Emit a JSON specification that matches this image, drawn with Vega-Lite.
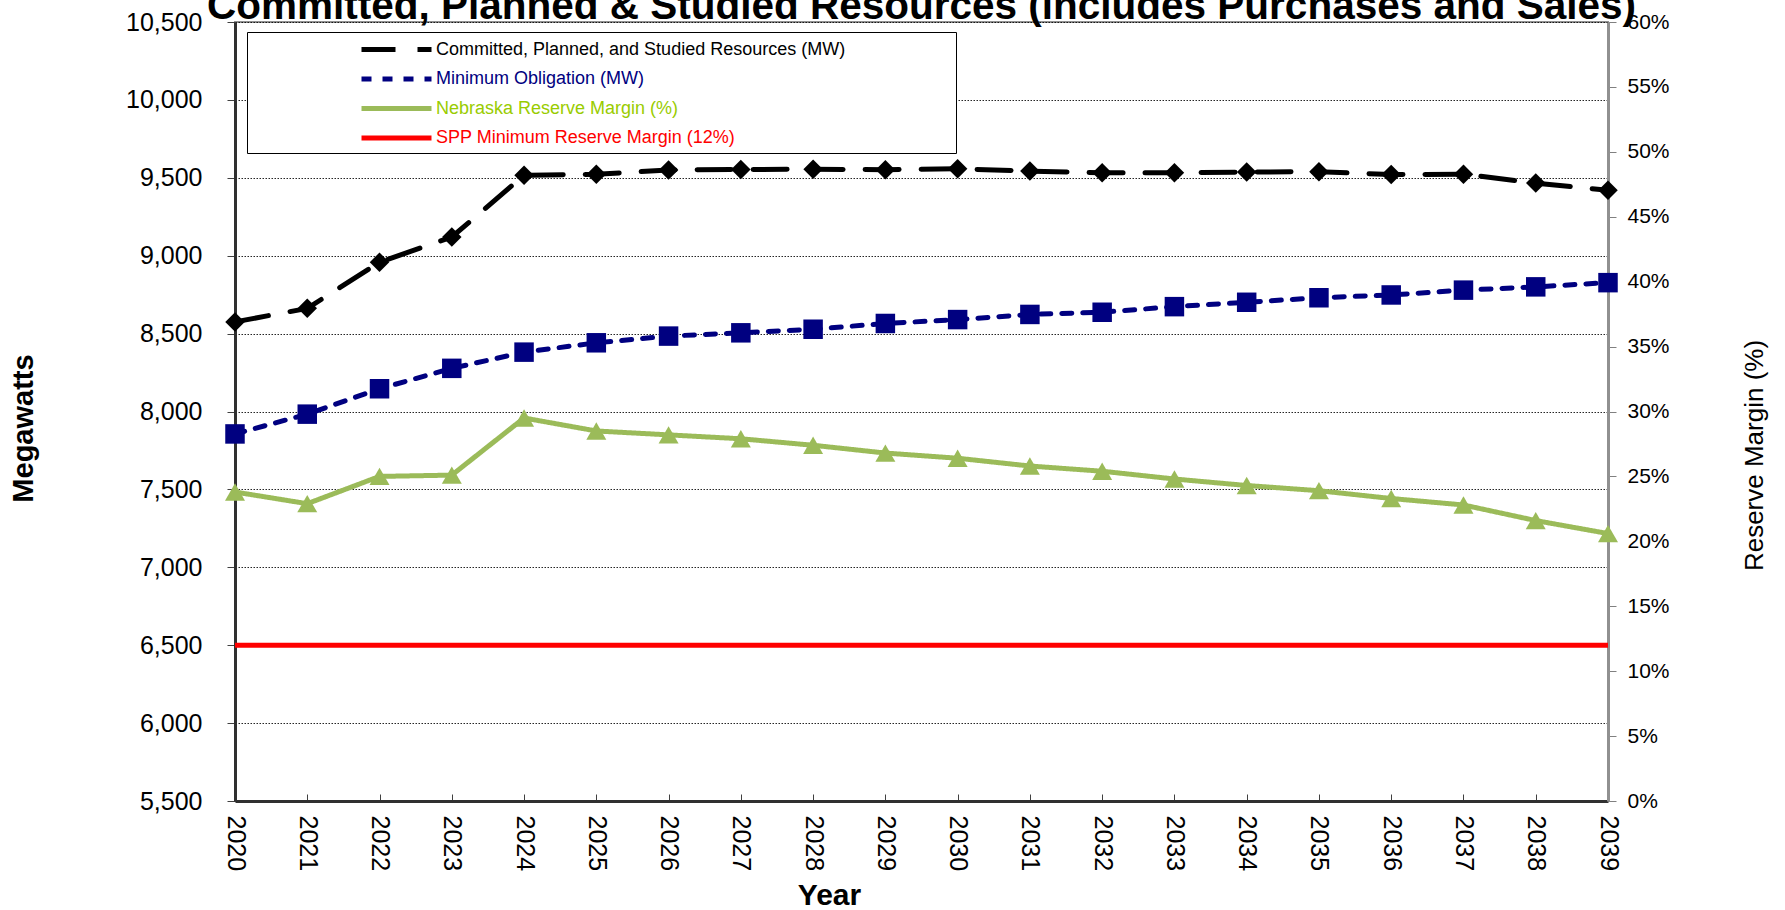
{
  "$schema": "https://vega.github.io/schema/vega-lite/v6.json",
  "width": 1373,
  "height": 779,
  "autosize": {"type": "none"},
  "padding": {"left": 235, "top": 22, "right": 177, "bottom": 109},
  "background": "white",
  "title": {
    "text": "Committed, Planned & Studied Resources (includes Purchases and Sales)",
    "anchor": "middle",
    "frame": "group",
    "font": "Liberation Sans",
    "fontSize": 40.5,
    "fontWeight": "bold",
    "color": "#000000",
    "baseline": "alphabetic",
    "offset": -49
  },
  "datasets": {
    "mw": [
      {"Year": 2020, "Series": "Committed, Planned, and Studied Resources (MW)", "Value": 8575},
      {"Year": 2021, "Series": "Committed, Planned, and Studied Resources (MW)", "Value": 8662},
      {"Year": 2022, "Series": "Committed, Planned, and Studied Resources (MW)", "Value": 8958},
      {"Year": 2023, "Series": "Committed, Planned, and Studied Resources (MW)", "Value": 9120},
      {"Year": 2024, "Series": "Committed, Planned, and Studied Resources (MW)", "Value": 9516},
      {"Year": 2025, "Series": "Committed, Planned, and Studied Resources (MW)", "Value": 9523},
      {"Year": 2026, "Series": "Committed, Planned, and Studied Resources (MW)", "Value": 9550},
      {"Year": 2027, "Series": "Committed, Planned, and Studied Resources (MW)", "Value": 9553},
      {"Year": 2028, "Series": "Committed, Planned, and Studied Resources (MW)", "Value": 9555},
      {"Year": 2029, "Series": "Committed, Planned, and Studied Resources (MW)", "Value": 9552},
      {"Year": 2030, "Series": "Committed, Planned, and Studied Resources (MW)", "Value": 9558},
      {"Year": 2031, "Series": "Committed, Planned, and Studied Resources (MW)", "Value": 9543},
      {"Year": 2032, "Series": "Committed, Planned, and Studied Resources (MW)", "Value": 9532},
      {"Year": 2033, "Series": "Committed, Planned, and Studied Resources (MW)", "Value": 9532},
      {"Year": 2034, "Series": "Committed, Planned, and Studied Resources (MW)", "Value": 9537},
      {"Year": 2035, "Series": "Committed, Planned, and Studied Resources (MW)", "Value": 9539},
      {"Year": 2036, "Series": "Committed, Planned, and Studied Resources (MW)", "Value": 9521},
      {"Year": 2037, "Series": "Committed, Planned, and Studied Resources (MW)", "Value": 9523},
      {"Year": 2038, "Series": "Committed, Planned, and Studied Resources (MW)", "Value": 9466},
      {"Year": 2039, "Series": "Committed, Planned, and Studied Resources (MW)", "Value": 9420},
      {"Year": 2020, "Series": "Minimum Obligation (MW)", "Value": 7856},
      {"Year": 2021, "Series": "Minimum Obligation (MW)", "Value": 7983},
      {"Year": 2022, "Series": "Minimum Obligation (MW)", "Value": 8146},
      {"Year": 2023, "Series": "Minimum Obligation (MW)", "Value": 8277},
      {"Year": 2024, "Series": "Minimum Obligation (MW)", "Value": 8381},
      {"Year": 2025, "Series": "Minimum Obligation (MW)", "Value": 8441},
      {"Year": 2026, "Series": "Minimum Obligation (MW)", "Value": 8484},
      {"Year": 2027, "Series": "Minimum Obligation (MW)", "Value": 8505},
      {"Year": 2028, "Series": "Minimum Obligation (MW)", "Value": 8528},
      {"Year": 2029, "Series": "Minimum Obligation (MW)", "Value": 8565},
      {"Year": 2030, "Series": "Minimum Obligation (MW)", "Value": 8590},
      {"Year": 2031, "Series": "Minimum Obligation (MW)", "Value": 8623},
      {"Year": 2032, "Series": "Minimum Obligation (MW)", "Value": 8637},
      {"Year": 2033, "Series": "Minimum Obligation (MW)", "Value": 8673},
      {"Year": 2034, "Series": "Minimum Obligation (MW)", "Value": 8701},
      {"Year": 2035, "Series": "Minimum Obligation (MW)", "Value": 8730},
      {"Year": 2036, "Series": "Minimum Obligation (MW)", "Value": 8748},
      {"Year": 2037, "Series": "Minimum Obligation (MW)", "Value": 8779},
      {"Year": 2038, "Series": "Minimum Obligation (MW)", "Value": 8800},
      {"Year": 2039, "Series": "Minimum Obligation (MW)", "Value": 8827}
    ],
    "pct": [
      {"Year": 2020, "Series": "Nebraska Reserve Margin (%)", "Value": 0.238},
      {"Year": 2021, "Series": "Nebraska Reserve Margin (%)", "Value": 0.229},
      {"Year": 2022, "Series": "Nebraska Reserve Margin (%)", "Value": 0.250},
      {"Year": 2023, "Series": "Nebraska Reserve Margin (%)", "Value": 0.251},
      {"Year": 2024, "Series": "Nebraska Reserve Margin (%)", "Value": 0.295},
      {"Year": 2025, "Series": "Nebraska Reserve Margin (%)", "Value": 0.285},
      {"Year": 2026, "Series": "Nebraska Reserve Margin (%)", "Value": 0.282},
      {"Year": 2027, "Series": "Nebraska Reserve Margin (%)", "Value": 0.279},
      {"Year": 2028, "Series": "Nebraska Reserve Margin (%)", "Value": 0.274},
      {"Year": 2029, "Series": "Nebraska Reserve Margin (%)", "Value": 0.268},
      {"Year": 2030, "Series": "Nebraska Reserve Margin (%)", "Value": 0.264},
      {"Year": 2031, "Series": "Nebraska Reserve Margin (%)", "Value": 0.258},
      {"Year": 2032, "Series": "Nebraska Reserve Margin (%)", "Value": 0.254},
      {"Year": 2033, "Series": "Nebraska Reserve Margin (%)", "Value": 0.248},
      {"Year": 2034, "Series": "Nebraska Reserve Margin (%)", "Value": 0.243},
      {"Year": 2035, "Series": "Nebraska Reserve Margin (%)", "Value": 0.239},
      {"Year": 2036, "Series": "Nebraska Reserve Margin (%)", "Value": 0.233},
      {"Year": 2037, "Series": "Nebraska Reserve Margin (%)", "Value": 0.228},
      {"Year": 2038, "Series": "Nebraska Reserve Margin (%)", "Value": 0.216},
      {"Year": 2039, "Series": "Nebraska Reserve Margin (%)", "Value": 0.206},
      {"Year": 2020, "Series": "SPP Minimum Reserve Margin (12%)", "Value": 0.12},
      {"Year": 2039, "Series": "SPP Minimum Reserve Margin (12%)", "Value": 0.12}
    ]
  },
  "encoding": {
    "x": {
      "field": "Year",
      "type": "quantitative",
      "scale": {"domain": [2020, 2039], "nice": false, "zero": false},
      "axis": {
        "title": "Year",
        "values": [2020, 2021, 2022, 2023, 2024, 2025, 2026, 2027, 2028, 2029, 2030, 2031, 2032, 2033, 2034, 2035, 2036, 2037, 2038, 2039],
        "format": "d",
        "labelAngle": 90,
        "labelFont": "Liberation Sans",
        "labelFontSize": 25,
        "labelColor": "#000000",
        "labelPadding": 21,
        "labelOverlap": false,
        "labelFlush": false,
        "tickSize": -7,
        "tickColor": "#404040",
        "tickWidth": 1,
        "domainColor": "#303030",
        "domainWidth": 3,
        "grid": false,
        "titleFont": "Liberation Sans",
        "titleFontSize": 30,
        "titleFontWeight": "bold",
        "titleColor": "#000000",
        "titleX": 594,
        "titleY": 103,
        "titleBaseline": "alphabetic",
        "titleAlign": "center"
      }
    },
    "color": {
      "field": "Series",
      "type": "nominal",
      "title": null,
      "scale": {
        "domain": ["Committed, Planned, and Studied Resources (MW)", "Minimum Obligation (MW)", "Nebraska Reserve Margin (%)", "SPP Minimum Reserve Margin (12%)"],
        "range": ["#000000", "#000080", "#9BBB59", "#FF0000"]
      },
      "legend": {
        "labelExpr": "datum.label + '\u00a0\u00a0\u00a0\u00a0\u00a0\u00a0\u00a0\u00a0\u00a0\u00a0\u00a0\u00a0\u00a0\u00a0\u00a0\u00a0\u00a0\u00a0\u00a0\u00a0\u00a0\u200b'"
      }
    }
  },
  "layer": [
    {
      "data": {"name": "mw"},
      "encoding": {
        "y": {
          "field": "Value",
          "type": "quantitative",
          "scale": {"domain": [5500, 10500], "nice": false, "zero": false},
          "axis": {
            "orient": "left",
            "title": "Megawatts",
            "values": [5500, 6000, 6500, 7000, 7500, 8000, 8500, 9000, 9500, 10000, 10500],
            "format": ",d",
            "labelFont": "Liberation Sans",
            "labelFontSize": 25,
            "labelColor": "#000000",
            "labelPadding": 25,
            "tickSize": 8,
            "tickColor": "#404040",
            "domainColor": "#303030",
            "domainWidth": 3,
            "grid": true,
            "gridColor": "#000000",
            "gridDash": [1.5, 1.5],
            "gridWidth": 1,
            "gridOpacity": 0.85,
            "titleFont": "Liberation Sans",
            "titleFontSize": 29,
            "titleFontWeight": "bold",
            "titleColor": "#000000",
            "titleAngle": -90,
            "titleX": -212,
            "titleY": 406,
            "titleBaseline": "middle",
            "titleAlign": "center"
          }
        }
      },
      "layer": [
        {
          "mark": {"type": "line", "strokeWidth": 5, "strokeCap": "round"},
          "encoding": {
            "strokeDash": {
              "field": "Series",
              "type": "nominal",
              "title": null,
              "scale": {
                "domain": ["Committed, Planned, and Studied Resources (MW)", "Minimum Obligation (MW)", "Nebraska Reserve Margin (%)", "SPP Minimum Reserve Margin (12%)"],
                "range": [[34, 22], [10, 11], [1, 0], [1, 0]]
              },
              "legend": {
                "labelExpr": "datum.label + '\u00a0\u00a0\u00a0\u00a0\u00a0\u00a0\u00a0\u00a0\u00a0\u00a0\u00a0\u00a0\u00a0\u00a0\u00a0\u00a0\u00a0\u00a0\u00a0\u00a0\u00a0\u200b'"
              }
            }
          }
        },
        {
          "mark": {"type": "point", "filled": true, "size": 380, "opacity": 1},
          "encoding": {
            "shape": {
              "field": "Series",
              "type": "nominal",
              "legend": null,
              "scale": {
                "domain": ["Committed, Planned, and Studied Resources (MW)", "Minimum Obligation (MW)", "Nebraska Reserve Margin (%)"],
                "range": ["diamond", "square", "triangle-up"]
              }
            }
          }
        }
      ]
    },
    {
      "data": {"name": "pct"},
      "encoding": {
        "y": {
          "field": "Value",
          "type": "quantitative",
          "scale": {"domain": [0, 0.6], "nice": false, "zero": false},
          "axis": {
            "orient": "right",
            "title": "Reserve Margin (%)",
            "values": [0, 0.05, 0.1, 0.15, 0.2, 0.25, 0.3, 0.35, 0.4, 0.45, 0.5, 0.55, 0.6],
            "format": ".0%",
            "labelFont": "Liberation Sans",
            "labelFontSize": 21,
            "labelColor": "#000000",
            "labelPadding": 11,
            "tickSize": 8,
            "tickColor": "#808080",
            "domainColor": "#909090",
            "domainWidth": 3,
            "grid": false,
            "titleFont": "Liberation Sans",
            "titleFontSize": 26,
            "titleFontWeight": "normal",
            "titleColor": "#000000",
            "titleAngle": -90,
            "titleX": 146,
            "titleY": 433,
            "titleBaseline": "middle",
            "titleAlign": "center"
          }
        }
      },
      "layer": [
        {
          "mark": {"type": "line", "strokeWidth": 5, "strokeCap": "butt"},
          "encoding": {
            "strokeDash": {
              "field": "Series",
              "type": "nominal",
              "title": null,
              "legend": {
                "labelExpr": "datum.label + '\u00a0\u00a0\u00a0\u00a0\u00a0\u00a0\u00a0\u00a0\u00a0\u00a0\u00a0\u00a0\u00a0\u00a0\u00a0\u00a0\u00a0\u00a0\u00a0\u00a0\u00a0\u200b'"
              }
            }
          }
        },
        {
          "transform": [{"filter": "datum.Series === 'Nebraska Reserve Margin (%)'"}],
          "mark": {"type": "point", "filled": true, "size": 400, "opacity": 1},
          "encoding": {
            "shape": {"field": "Series", "type": "nominal", "legend": null}
          }
        }
      ]
    }
  ],
  "resolve": {"scale": {"y": "independent"}},
  "config": {
    "view": {"stroke": "#909090", "strokeWidth": 2},
    "legend": {
      "orient": "none",
      "legendX": 12,
      "legendY": 10,
      "padding": 5,
      "strokeColor": "#000000",
      "fillColor": "#FFFFFF",
      "symbolType": "M-3.5,0H3.5",
      "symbolSize": 400,
      "symbolStrokeWidth": 5,
      "symbolOffset": 132,
      "labelOffset": 27,
      "labelFont": "Liberation Sans",
      "labelFontSize": 18,
      "labelLimit": 1000,
      "rowPadding": 6.5,
      "labelColor": {"expr": "datum.label === 'Minimum Obligation (MW)' ? '#000080' : datum.label === 'Nebraska Reserve Margin (%)' ? '#99CC00' : datum.label === 'SPP Minimum Reserve Margin (12%)' ? '#FF0000' : '#000000'"}
    }
  }
}
